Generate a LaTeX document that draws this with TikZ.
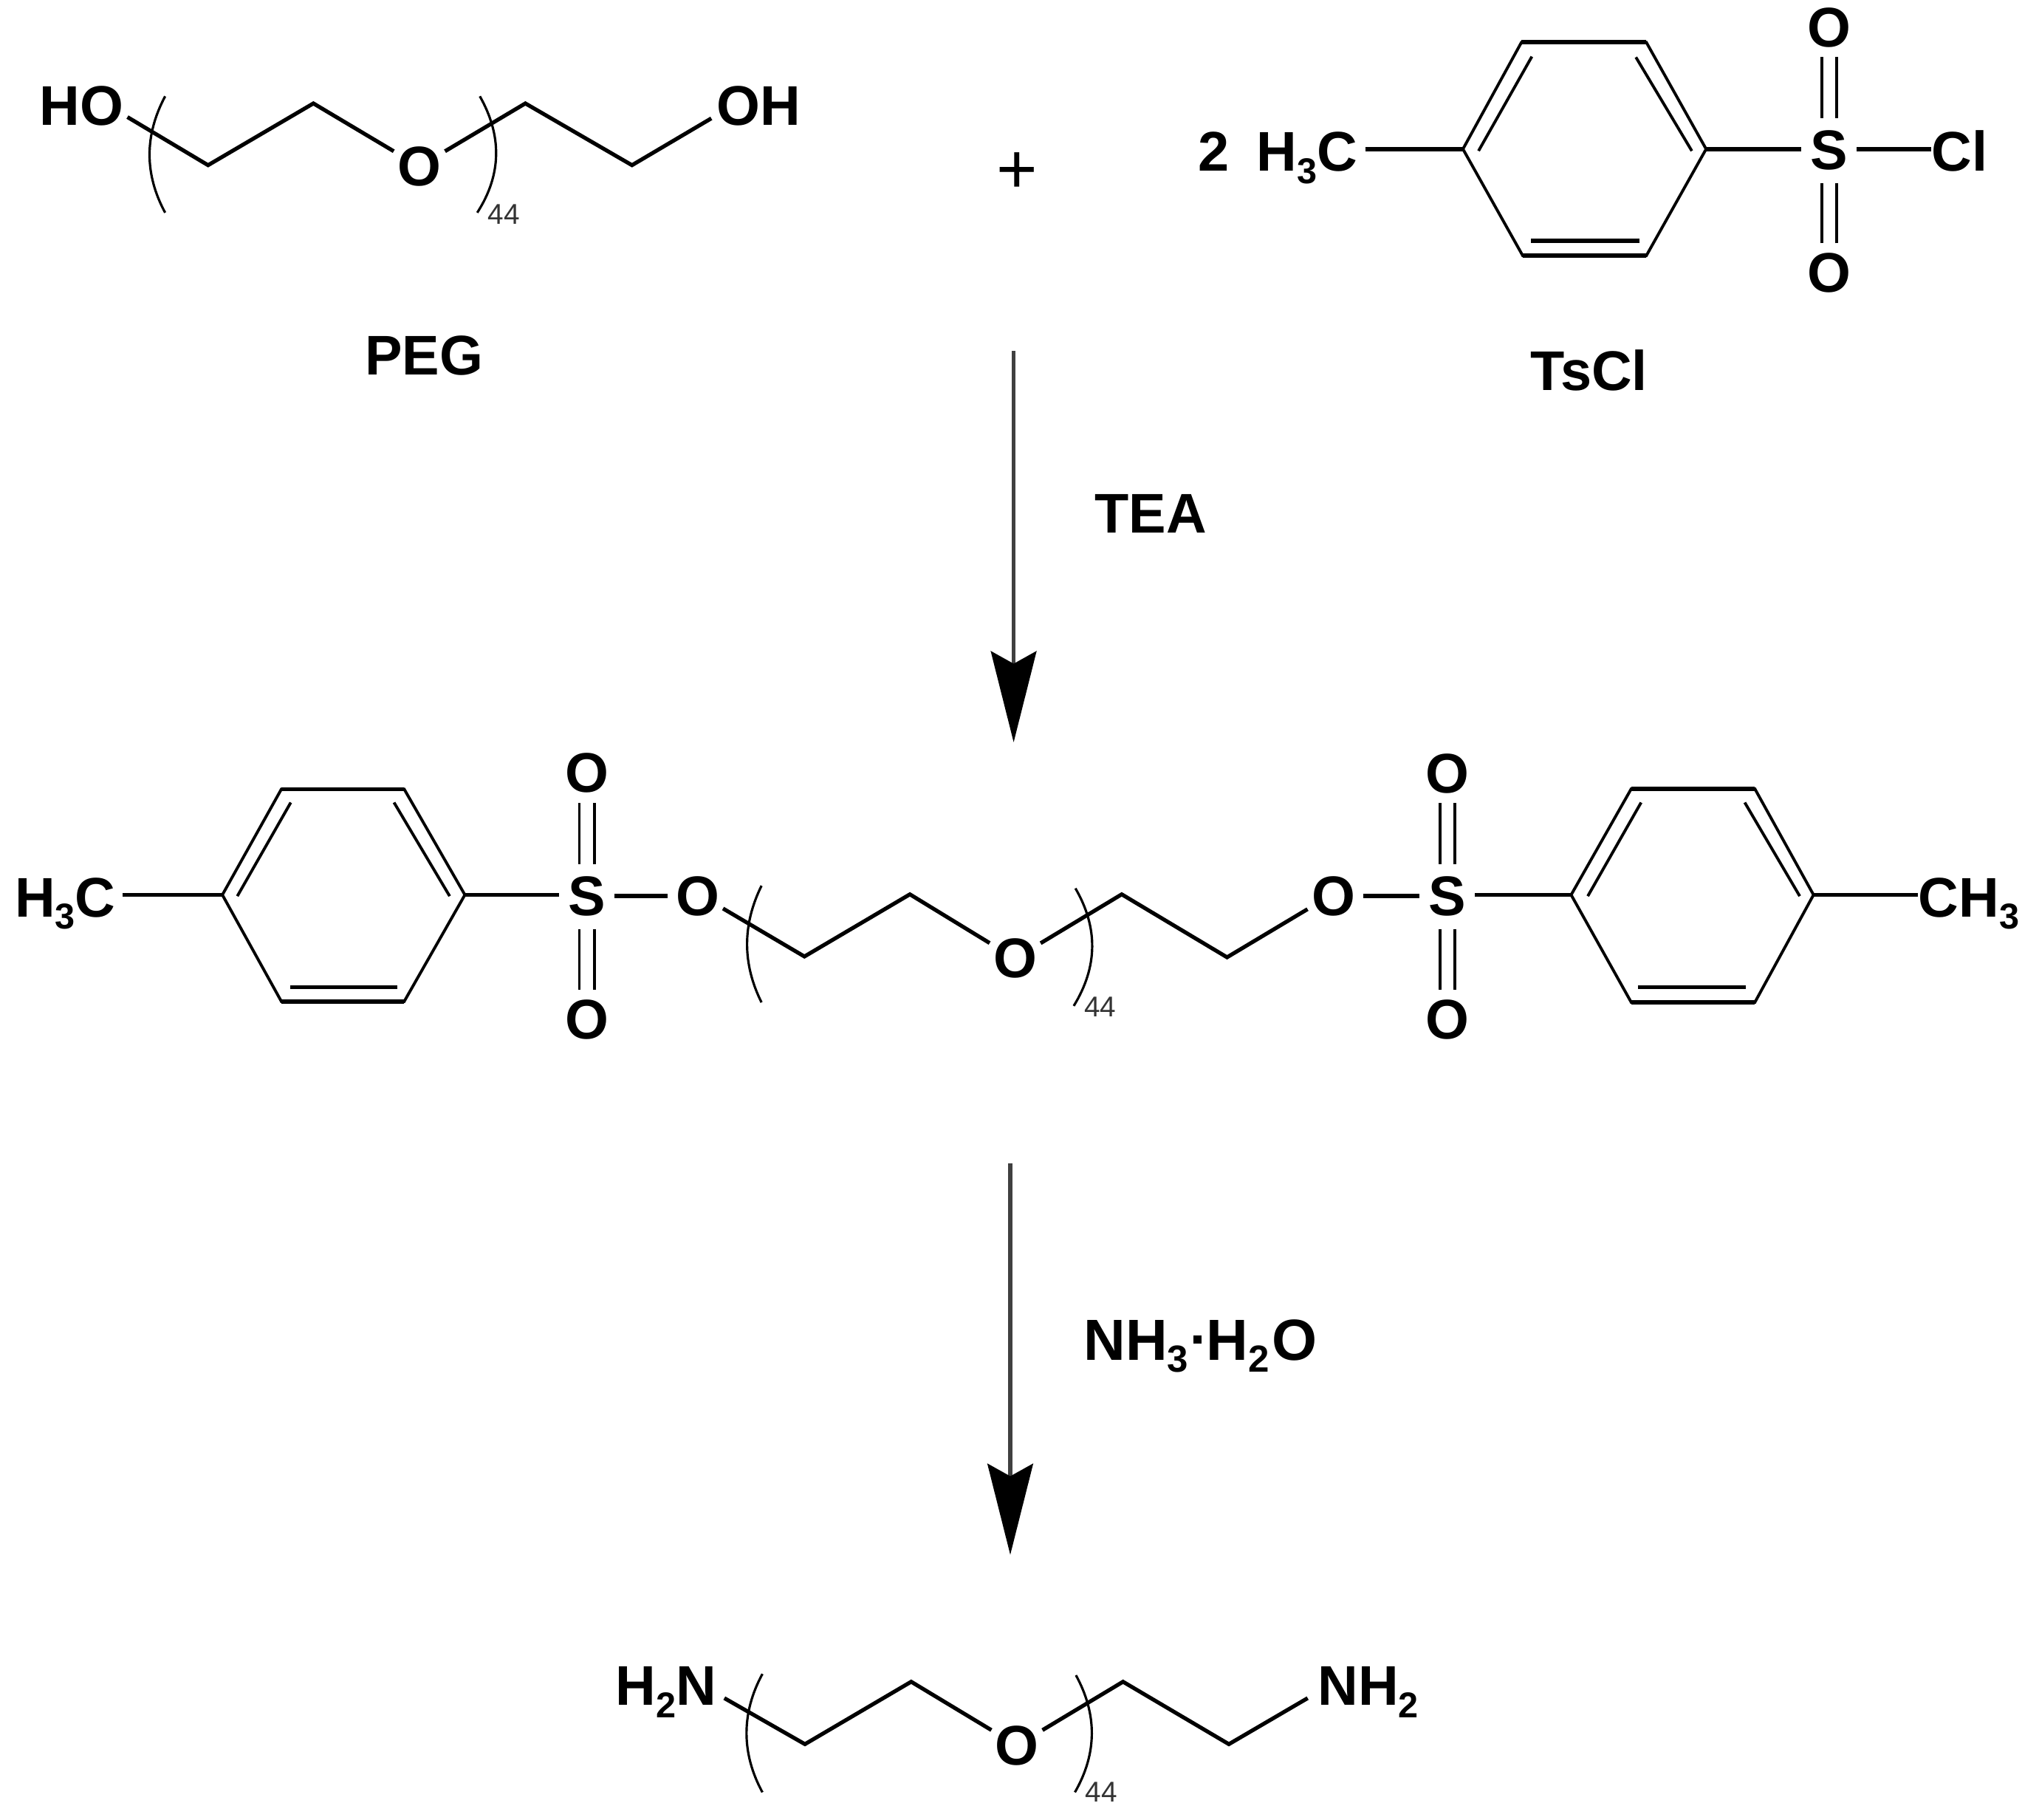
\documentclass[tikz,border=0pt]{standalone}
\usepackage{fontspec}
\setmainfont{Liberation Sans}
\usetikzlibrary{arrows.meta}
\newcommand{\sbs}[1]{\raisebox{-4.7pt}{\fontsize{13.8}{14}\selectfont #1}}
\tikzset{
  x=0.5pt,y=-0.5pt,
  chem/.style={font=\fontsize{21.5}{24}\selectfont\bfseries,text=black,inner sep=0pt,anchor=base},
  chemw/.style={chem,anchor=base west},
  atomO/.style={font=\fontsize{21.5}{24}\selectfont\bfseries,text=black,circle,inner sep=0pt,minimum size=21pt},
  atomS/.style={font=\fontsize{21.5}{24}\selectfont\bfseries,text=black,circle,inner sep=0pt,minimum size=17.5pt},
  repeatn/.style={font=\fontsize{11}{12}\selectfont,text=black!80,inner sep=0pt},
  bond/.style={draw=black,line width=1.5pt,line join=miter},
  ringb/.style={draw=black,line width=1.1pt,line join=miter},
  hbond/.style={draw=black,line width=1.6pt},
  dblb/.style={draw=black,line width=1.1pt},
  brack/.style={draw=black,line width=0.9pt},
  rxn/.style={draw=black!75,line width=1.5pt,-{Stealth[length=35pt,width=17.5pt,inset=4.8pt,color=black]}},
}
\begin{document}
\begin{tikzpicture}
\useasboundingbox (0,0) rectangle (1568,1399.2);
% ---------- PEG ----------
\node[chemw] (pegHO) at (30,96.5) {HO};
\node[chemw] (pegOH) at (551,96.5) {OH};
\node[atomO] (pegO) at (322.5,128) {O};
\coordinate (pa) at (98,90);
\coordinate (pb) at (160,127);
\coordinate (pc) at (241,79.5);
\coordinate (pd) at (404,79.5);
\coordinate (pe) at (486,127);
\coordinate (pf) at (547,91);
\path[bond] (pa) -- (pb) -- (pc) -- (pegO);
\path[bond] (pegO) -- (pd) -- (pe) -- (pf);
\coordinate (pl1) at (127,74); \coordinate (pl2) at (127,163.5);
\coordinate (pr1) at (369,74); \coordinate (pr2) at (367,163.5);
\path[brack] (pl1) .. controls (111,104) and (111,134) .. (pl2);
\path[brack] (pr1) .. controls (386,104) and (386,134) .. (pr2);
\node[repeatn] (pegN) at (387.5,165) {44};
\node[chem] (pegL) at (326,288) {PEG};
% ---------- plus ----------
\node[inner sep=0pt,font=\fontsize{27}{28}\selectfont] (plus) at (782,133) {+};
% ---------- TsCl ----------
\node[chemw] (two) at (921,131.5) {2};
\node[chemw] (tH) at (966,131.5) {H\sbs{3}C};
\node[atomS] (tS) at (1406.6,115.6) {S};
\node[atomO] (tOa) at (1406.6,21) {O};
\node[atomO] (tOb) at (1406.6,210) {O};
\node[chemw] (tCl) at (1485,131.5) {Cl};
\coordinate (t1) at (1125,114.6);
\coordinate (t2) at (1170,32.5);
\coordinate (t3) at (1266,32.5);
\coordinate (t4) at (1312,114.6);
\coordinate (t5) at (1266,196.6);
\coordinate (t6) at (1171,196.6);
\path[ringb] (t1) -- (t2) -- (t3) -- (t4) -- (t5) -- (t6) -- cycle;
\path[hbond] (t2) -- (t3);
\path[hbond] (t5) -- (t6);
\coordinate (t1i) at (1137,116); \coordinate (t2i) at (1178,43.5);
\coordinate (t3i) at (1258,44); \coordinate (t4i) at (1301,116);
\coordinate (t5i) at (1261,185); \coordinate (t6i) at (1177,185);
\path[dblb] (t1i) -- (t2i);
\path[dblb] (t3i) -- (t4i);
\path[hbond] (t5i) -- (t6i);
\path[hbond] ([xshift=2.8pt]tH.east |- t1) -- (t1);
\path[hbond] (t4) -- (t4 -| tS.west);
\path[hbond] (tS.east |- t4) -- (t4 -| tCl.west);
\path[dblb] ([xshift=-2.9pt]tOa.south) -- ([xshift=-2.9pt,yshift=1.8pt]tS.north);
\path[dblb] ([xshift=2.9pt]tOa.south) -- ([xshift=2.9pt,yshift=1.8pt]tS.north);
\path[dblb] ([xshift=-2.9pt]tOb.north) -- ([xshift=-2.9pt,yshift=-2pt]tS.south);
\path[dblb] ([xshift=2.9pt]tOb.north) -- ([xshift=2.9pt,yshift=-2pt]tS.south);
\node[chem] (tL) at (1222,300) {TsCl};
% ---------- arrow 1 ----------
\coordinate (a1s) at (779.5,270);
\coordinate (a1e) at (779.5,570.7);
\path[rxn] (a1s) -- (a1e);
\node[chem] (tea) at (885,410) {TEA};
% ---------- tosylate ----------
\node[chemw] (mHl) at (11,705) {H\sbs{3}C};
\coordinate (m1) at (171,688);
\coordinate (m2) at (216.4,606.7);
\coordinate (m3) at (310.8,606.7);
\coordinate (m4) at (357.5,688);
\coordinate (m5) at (310.8,770);
\coordinate (m6) at (216.4,770);
\path[ringb] (m1) -- (m2) -- (m3) -- (m4) -- (m5) -- (m6) -- cycle;
\path[hbond] (m2) -- (m3);
\path[hbond] (m5) -- (m6);
\coordinate (m1i) at (182.5,689); \coordinate (m2i) at (223.6,617);
\coordinate (m3i) at (303,617); \coordinate (m4i) at (345.8,689);
\coordinate (m5i) at (305.6,759); \coordinate (m6i) at (223,759);
\path[dblb] (m1i) -- (m2i);
\path[dblb] (m3i) -- (m4i);
\path[hbond] (m5i) -- (m6i);
\path[hbond] ([xshift=2.5pt]mHl.east |- m1) -- (m1);
\node[atomS] (mS) at (451.3,689) {S};
\node[atomO] (mOa) at (451.3,594.4) {O};
\node[atomO] (mOb) at (451.3,783.8) {O};
\node[atomO] (mOe) at (536.5,689) {O};
\path[hbond] (m4) -- (m4 -| mS.west);
\path[hbond] (mS) -- (mOe);
\path[dblb] ([xshift=-2.9pt]mOa.south) -- ([xshift=-2.9pt,yshift=1.8pt]mS.north);
\path[dblb] ([xshift=2.9pt]mOa.south) -- ([xshift=2.9pt,yshift=1.8pt]mS.north);
\path[dblb] ([xshift=-2.9pt]mOb.north) -- ([xshift=-2.9pt,yshift=-2pt]mS.south);
\path[dblb] ([xshift=2.9pt]mOb.north) -- ([xshift=2.9pt,yshift=-2pt]mS.south);
\node[atomO] (mO) at (780.6,737) {O};
\coordinate (ca) at (556,698.5);
\coordinate (cb) at (618.6,735.4);
\coordinate (cc) at (699.7,687.6);
\coordinate (cd) at (862.6,687.6);
\coordinate (ce) at (943.6,736);
\coordinate (cf) at (1005.5,699);
\path[bond] (ca) -- (cb) -- (cc) -- (mO);
\path[bond] (mO) -- (cd) -- (ce) -- (cf);
\coordinate (cl1) at (585.6,681); \coordinate (cl2) at (585.6,770.7);
\coordinate (cr1) at (827,683); \coordinate (cr2) at (825.7,773.4);
\path[brack] (cl1) .. controls (570.8,711) and (570.8,741) .. (cl2);
\path[brack] (cr1) .. controls (844.4,713) and (844.4,743) .. (cr2);
\node[repeatn] (mN) at (846,774) {44};
\node[atomO] (nOe) at (1025.6,689) {O};
\node[atomS] (nS) at (1113,689) {S};
\node[atomO] (nOa) at (1113,594.6) {O};
\node[atomO] (nOb) at (1113,783.8) {O};
\path[hbond] (nOe) -- (nS);
\path[dblb] ([xshift=-2.9pt]nOa.south) -- ([xshift=-2.9pt,yshift=1.8pt]nS.north);
\path[dblb] ([xshift=2.9pt]nOa.south) -- ([xshift=2.9pt,yshift=1.8pt]nS.north);
\path[dblb] ([xshift=-2.9pt]nOb.north) -- ([xshift=-2.9pt,yshift=-2pt]nS.south);
\path[dblb] ([xshift=2.9pt]nOb.north) -- ([xshift=2.9pt,yshift=-2pt]nS.south);
\coordinate (n1) at (1208.2,688);
\coordinate (n2) at (1254.4,606.5);
\coordinate (n3) at (1349.5,606.5);
\coordinate (n4) at (1394.6,688);
\coordinate (n5) at (1349.5,770.6);
\coordinate (n6) at (1254.4,770.6);
\path[ringb] (n1) -- (n2) -- (n3) -- (n4) -- (n5) -- (n6) -- cycle;
\path[hbond] (n2) -- (n3);
\path[hbond] (n5) -- (n6);
\coordinate (n1i) at (1221,689); \coordinate (n2i) at (1262,617);
\coordinate (n3i) at (1341.7,617); \coordinate (n4i) at (1384,689);
\coordinate (n5i) at (1342.6,759); \coordinate (n6i) at (1259.6,759);
\path[dblb] (n1i) -- (n2i);
\path[dblb] (n3i) -- (n4i);
\path[hbond] (n5i) -- (n6i);
\path[hbond] (n1) -- (n1 -| nS.east);
\node[chemw] (mHr) at (1475,705) {CH\sbs{3}};
\path[hbond] (n4) -- (mHr.west |- n4);
% ---------- arrow 2 ----------
\coordinate (a2s) at (776.9,894.4);
\coordinate (a2e) at (776.9,1195.4);
\path[rxn] (a2s) -- (a2e);
\node[chemw,font=\fontsize{22.3}{24}\selectfont\bfseries] (nh3) at (833,1045.5) {NH\raisebox{-4.7pt}{\fontsize{14.5}{15}\selectfont 3}\kern1.9pt\raisebox{6.2pt}{\rule{3.2pt}{3.2pt}}\kern1.9pt H\raisebox{-4.7pt}{\fontsize{14.5}{15}\selectfont 2}\kern1pt O};
% ---------- diamine ----------
\node[chemw] (bHl) at (473,1311) {H\sbs{2}N};
\node[chemw] (bHr) at (1013,1311) {NH\sbs{2}};
\node[atomO] (bO) at (782,1342) {O};
\coordinate (ba) at (557,1305.6);
\coordinate (bb) at (619,1341);
\coordinate (bc) at (700.7,1293);
\coordinate (bd) at (863.6,1293);
\coordinate (be) at (945,1341);
\coordinate (bf) at (1005.6,1305.6);
\path[bond] (ba) -- (bb) -- (bc) -- (bO);
\path[bond] (bO) -- (bd) -- (be) -- (bf);
\coordinate (bl1) at (586.3,1287); \coordinate (bl2) at (586.3,1378);
\coordinate (br1) at (827.4,1288); \coordinate (br2) at (826.6,1378);
\path[brack] (bl1) .. controls (570,1317) and (570,1348) .. (bl2);
\path[brack] (br1) .. controls (843.8,1318) and (843.8,1348) .. (br2);
\node[repeatn] (bN) at (847,1378) {44};
\end{tikzpicture}
\end{document}
